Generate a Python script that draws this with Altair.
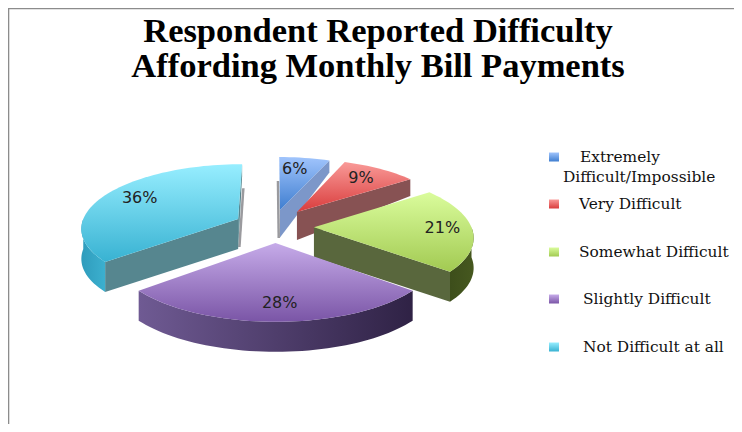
import math
import altair as alt
import pandas as pd

# ---- values
categories = ["Extremely Difficult/Impossible", "Very Difficult", "Somewhat Difficult",
              "Slightly Difficult", "Not Difficult at all"]
shares = [6, 9, 21, 28, 36]
title_lines = ["Respondent Reported Difficulty", "Affording Monthly Bill Payments"]

# legend text lines: (text, left x, centre y)
legend_lines = [("Extremely", 580, 157), ("Difficult/Impossible", 563, 177), ("Very Difficult", 579, 204),
                ("Somewhat Difficult", 579, 252), ("Slightly Difficult", 583, 299), ("Not Difficult at all", 583, 347)]
legend_y = [157, 204, 252, 299, 347]

# colours of each slice
top_light = ["#a0c4fc", "#f99a98", "#dafc9c", "#c6abe9", "#97eeff"]
top_dark = ["#3f7ed0", "#d93c3c", "#a2ca52", "#7a55a6", "#38b2d2"]
cut_face = ["#7c97c9", "#875253", "#59673d", "#5f4a7c", "#56868f"]
wall_a = ["#5a78a8", "#8a4544", "#3d4e1b", "#6f5a93", "#2f9cbc"]
wall_b = ["#5a78a8", "#8a4544", "#46581f", "#2f2245", "#3cb0cf"]

# slice offsets from the pie centre in disk units (explosion)
offset_u = [0.046, 0.157, 0.26, 0.015, -0.225]
offset_v = [-0.399, -0.365, -0.1185, 0.121, -0.25]
# nudges of the percent labels, pixels
label_dx = [-5, -2, 5, 4, 5]
label_dy = [1, 0, -1, 1, -1]

# perspective view of the disk
CX, CY, R, K, P = 273, 235, 160, 66, 0.132
LABEL_R = 0.78
STEP = 2.0


def project(u, v, down=False):
    s = 1 / (1 - P * v)
    d = min(30, max(12, 35 + 19 * v)) if down else 0
    return CX + R * u * s, CY + K * v * s + d


def rim(i, t):
    a = math.radians(t)
    return offset_u[i] + math.sin(a), offset_v[i] - math.cos(a)


def angles(a, b):
    n = max(2, int(abs(b - a) / STEP) + 1)
    return [a + (b - a) * k / (n - 1) for k in range(n)]


x_scale = alt.Scale(domain=[8, 734], range=[0, 726], nice=False, zero=False)
y_scale = alt.Scale(domain=[424, 8], range=[416, 0], nice=False, zero=False)
X = alt.X("x:Q", scale=x_scale, axis=None)
Y = alt.Y("y:Q", scale=y_scale, axis=None)


def poly(points, fill):
    df = pd.DataFrame([{"x": p[0], "y": p[1], "i": n} for n, p in enumerate(points)])
    return alt.Chart(df).mark_line(fill=fill, stroke="transparent", strokeWidth=0, clip=False).encode(
        x=X, y=Y, order=alt.Order("i:Q"))


def vgrad(a, b):
    return alt.Gradient(gradient="linear", x1=0, y1=0, x2=0, y2=1,
                        stops=[alt.GradientStop(color=a, offset=0), alt.GradientStop(color=b, offset=1)])


def hgrad(a, b):
    return alt.Gradient(gradient="linear", x1=0, y1=0, x2=1, y2=0,
                        stops=[alt.GradientStop(color=a, offset=0), alt.GradientStop(color=b, offset=1)])


starts = []
acc = 0
for s in shares:
    starts.append(acc)
    acc += s
deg = [(st * 3.6, (st + s) * 3.6) for st, s in zip(starts, shares)]

layers = []
# page frame
frame = pd.DataFrame({"x": [8.5, 8.5, 734], "y": [424, 8.5, 8.5], "i": [0, 1, 2]})
layers.append(alt.Chart(frame).mark_line(color="#8c8c8c", strokeWidth=1.6).encode(x=X, y=Y, order="i:Q"))

# thin shaded strips beside the two cuts at twelve o'clock
for i, t, w in [(4, deg[4][1], 2.5), (0, deg[0][0], -2.5)]:
    ax, ay = project(offset_u[i], offset_v[i])
    rx, ry = project(*rim(i, t))
    layers.append(poly([(rx, ry + 24), (rx + w, ry + 24), (ax + w, ay + 28), (ax, ay + 28)], "#9a9a9e"))

for i in [4, 0, 1, 2, 3]:
    a, b = deg[i]
    apex = (offset_u[i], offset_v[i])
    # cut faces
    cuts = []
    if i < 3:
        cuts = [b]
    if i == 4:
        cuts = [a, b]
    for t in cuts:
        rp = rim(i, t)
        layers.append(poly([project(*apex), project(*rp), project(*rp, down=True), project(*apex, down=True)],
                           cut_face[i]))
    # outer wall, front part only
    lo, hi = max(a, 90), min(b, 270)
    if lo < hi:
        pts = angles(lo, hi)
        topc = [project(*rim(i, t)) for t in pts]
        botc = [project(*rim(i, t), down=True) for t in reversed(pts)]
        layers.append(poly(topc + botc, hgrad(wall_a[i], wall_b[i])))
    # top face
    layers.append(poly([project(*apex)] + [project(*rim(i, t)) for t in angles(a, b)], vgrad(top_light[i], top_dark[i])))

# percent labels
lab = []
for i, s in enumerate(shares):
    mid = math.radians((deg[i][0] + deg[i][1]) / 2)
    px, py = project(offset_u[i] + LABEL_R * math.sin(mid), offset_v[i] - LABEL_R * math.cos(mid))
    lab.append({"x": px + label_dx[i], "y": py + label_dy[i], "t": f"{s}%"})
layers.append(alt.Chart(pd.DataFrame(lab)).mark_text(font="DejaVu Sans", fontSize=16, color="#222222",
                                                     align="center", baseline="middle").encode(x=X, y=Y, text="t:N"))

# legend keys and text
for i, c in enumerate(categories):
    key = pd.DataFrame({"x": [549], "x2": [559], "y": [legend_y[i] - 4.5], "y2": [legend_y[i] + 4.5], "k": [c]})
    layers.append(alt.Chart(key).mark_rect(fill=vgrad(top_light[i], top_dark[i])).encode(
        x=X, x2="x2:Q", y=Y, y2="y2:Q"))
leg = pd.DataFrame(legend_lines, columns=["t", "x", "y"])
layers.append(alt.Chart(leg).mark_text(font="DejaVu Serif", fontSize=15.4, color="#111111",
                                       align="left", baseline="middle").encode(x=X, y=Y, text="t:N"))

# title
tit = pd.DataFrame({"t": title_lines, "x": [378, 378], "y": [32, 67]})
layers.append(alt.Chart(tit).mark_text(font="Liberation Serif", fontWeight="bold", fontSize=34.5, color="#000000",
                                       align="center", baseline="middle").encode(x=X, y=Y, text="t:N"))

chart = alt.layer(*layers).properties(width=726, height=416, padding=0,
                                      autosize=alt.AutoSizeParams(type="none")).configure_view(stroke=None)
chart.save("out.html", embed_options={"renderer": "svg", "actions": False})
